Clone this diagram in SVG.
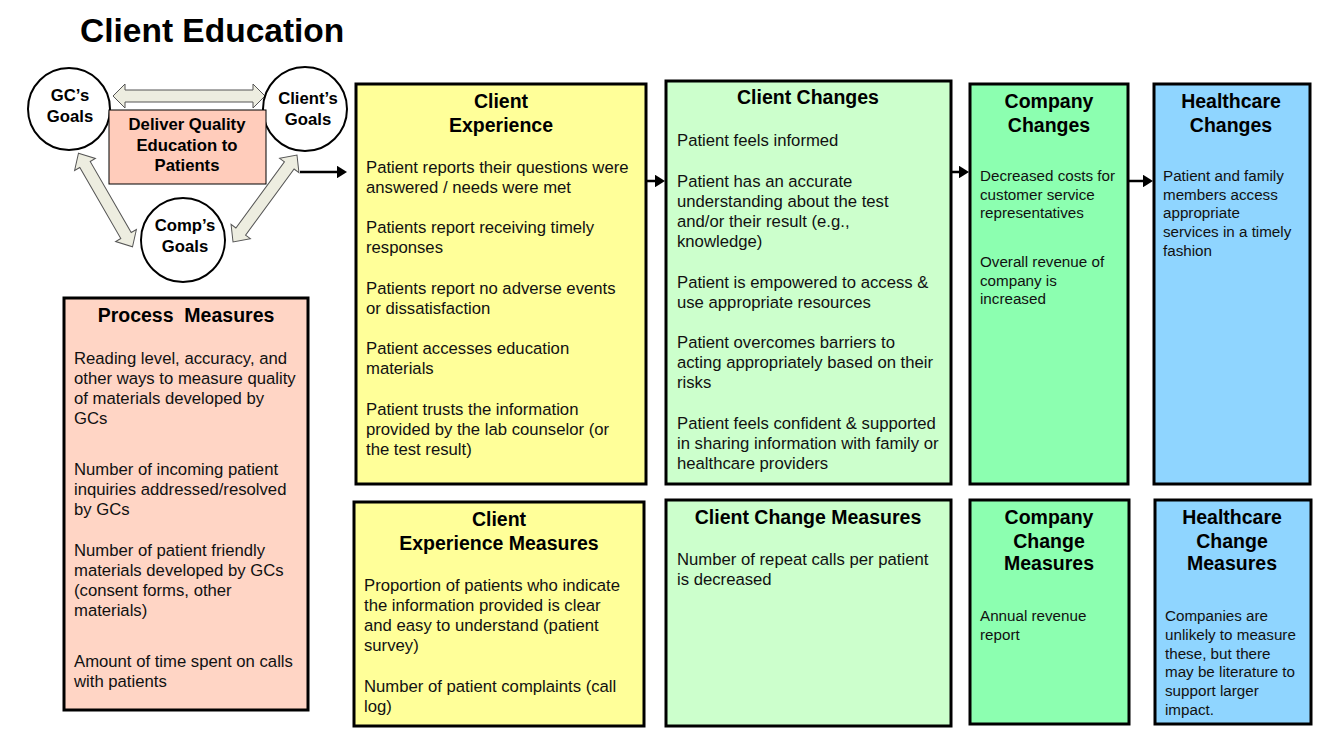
<svg xmlns="http://www.w3.org/2000/svg" width="1333" height="738" viewBox="0 0 1333 738">
<defs>
<style>
.box{stroke:#000;stroke-width:3}
.h{font-family:"Liberation Sans",Arial,sans-serif;font-weight:bold;font-size:19.5px;text-anchor:middle;fill:#000}
.b{font-family:"Liberation Sans",Arial,sans-serif;font-size:16.7px;fill:#111}
.s{font-family:"Liberation Sans",Arial,sans-serif;font-size:15.2px;fill:#111}
.c{font-family:"Liberation Sans",Arial,sans-serif;font-weight:bold;font-size:16.7px;text-anchor:middle;fill:#000}
.circ{fill:#fff;stroke:#000;stroke-width:2}
.da{fill:#EDEDE0;stroke:#555;stroke-width:1}
.conn{stroke:#000;stroke-width:2.5;fill:none;marker-end:url(#ah)}
</style>
<marker id="ah" markerWidth="4" markerHeight="5" refX="2" refY="2.5" orient="auto" markerUnits="strokeWidth">
<path d="M0,0 L4,2.5 L0,5 Z" fill="#000"/>
</marker>
</defs>
<rect width="1333" height="738" fill="#fff"/>
<text x="80" y="42" font-family="Liberation Sans,Arial,sans-serif" font-weight="bold" font-size="33.5" fill="#000">Client Education</text>

<g id="goal-arrows">
<path class="da" transform="translate(189,96)" d="M-76,0 L-64,-12 L-64,-6 L64,-6 L64,-12 L76,0 L64,12 L64,6 L-64,6 L-64,12 Z"/>
<path class="da" transform="translate(105.5,200) rotate(60)" d="M-54,0 L-41,-12 L-41,-6 L41,-6 L41,-12 L54,0 L41,12 L41,6 L-41,6 L-41,12 Z"/>
<path class="da" transform="translate(265,198.5) rotate(126.3)" d="M-54,0 L-41,-12 L-41,-6 L41,-6 L41,-12 L54,0 L41,12 L41,6 L-41,6 L-41,12 Z"/>
</g>

<g id="gc-goals"><circle class="circ" cx="69" cy="109" r="41"/><text class="c" x="70" y="101">GC’s</text><text class="c" x="70" y="122">Goals</text></g>
<g id="client-goals"><circle class="circ" cx="305" cy="109" r="42"/><text class="c" x="308" y="104">Client’s</text><text class="c" x="308" y="125">Goals</text></g>
<g id="comp-goals"><circle class="circ" cx="183" cy="240" r="42"/><text class="c" x="185" y="231">Comp’s</text><text class="c" x="185" y="252">Goals</text></g>
<g id="deliver"><rect x="109" y="110" width="157" height="74" fill="#FFCCBB" stroke="#000" stroke-width="1"/>
<text class="c" x="187" y="130">Deliver Quality</text><text class="c" x="187" y="151">Education to</text><text class="c" x="187" y="171">Patients</text></g>

<g id="connectors">
<line class="conn" x1="300" y1="172" x2="342" y2="172"/>
<line class="conn" x1="646" y1="181" x2="660" y2="181"/>
<line class="conn" x1="951" y1="172" x2="964" y2="172"/>
<line class="conn" x1="1128" y1="181" x2="1148" y2="181"/>
</g>

<g id="client-experience"><rect class="box" x="356" y="84" width="290" height="400" fill="#FFFF99"/>
<text class="h" x="501" y="108">Client</text><text class="h" x="501" y="132">Experience</text>
<text class="b" x="366" y="173">Patient reports their questions were</text>
<text class="b" x="366" y="193">answered / needs were met</text>
<text class="b" x="366" y="233">Patients report receiving timely</text>
<text class="b" x="366" y="253">responses</text>
<text class="b" x="366" y="294">Patients report no adverse events</text>
<text class="b" x="366" y="314">or dissatisfaction</text>
<text class="b" x="366" y="354">Patient accesses education</text>
<text class="b" x="366" y="374">materials</text>
<text class="b" x="366" y="415">Patient trusts the information</text>
<text class="b" x="366" y="435">provided by the lab counselor (or</text>
<text class="b" x="366" y="455">the test result)</text>
</g>

<g id="client-changes"><rect class="box" x="666" y="81" width="285" height="403" fill="#CCFFCC"/>
<text class="h" x="808" y="104">Client Changes</text>
<text class="b" x="677" y="146">Patient feels informed</text>
<text class="b" x="677" y="187">Patient has an accurate</text>
<text class="b" x="677" y="207">understanding about the test</text>
<text class="b" x="677" y="227">and/or their result (e.g.,</text>
<text class="b" x="677" y="247">knowledge)</text>
<text class="b" x="677" y="288">Patient is empowered to access &amp;</text>
<text class="b" x="677" y="308">use appropriate resources</text>
<text class="b" x="677" y="348">Patient overcomes barriers to</text>
<text class="b" x="677" y="368">acting appropriately based on their</text>
<text class="b" x="677" y="388">risks</text>
<text class="b" x="677" y="429">Patient feels confident &amp; supported</text>
<text class="b" x="677" y="449">in sharing information with family or</text>
<text class="b" x="677" y="469">healthcare providers</text>
</g>

<g id="company-changes"><rect class="box" x="970" y="84" width="158" height="400" fill="#8CFFB0"/>
<text class="h" x="1049" y="108">Company</text><text class="h" x="1049" y="132">Changes</text>
<text class="s" x="980" y="181">Decreased costs for</text>
<text class="s" x="980" y="200">customer service</text>
<text class="s" x="980" y="218">representatives</text>
<text class="s" x="980" y="267">Overall revenue of</text>
<text class="s" x="980" y="286">company is</text>
<text class="s" x="980" y="304">increased</text>
</g>

<g id="healthcare-changes"><rect class="box" x="1154" y="84" width="156" height="400" fill="#8FD5FF"/>
<text class="h" x="1231" y="108">Healthcare</text><text class="h" x="1231" y="132">Changes</text>
<text class="s" x="1163" y="181">Patient and family</text>
<text class="s" x="1163" y="200">members access</text>
<text class="s" x="1163" y="218">appropriate</text>
<text class="s" x="1163" y="237">services in a timely</text>
<text class="s" x="1163" y="256">fashion</text>
</g>

<g id="process-measures"><rect class="box" x="64" y="298" width="244" height="412" fill="#FFD5C5"/>
<text class="h" x="186" y="322" xml:space="preserve">Process  Measures</text>
<text class="b" x="74" y="364">Reading level, accuracy, and</text>
<text class="b" x="74" y="384">other ways to measure quality</text>
<text class="b" x="74" y="404">of materials developed by</text>
<text class="b" x="74" y="424">GCs</text>
<text class="b" x="74" y="475">Number of incoming patient</text>
<text class="b" x="74" y="495">inquiries addressed/resolved</text>
<text class="b" x="74" y="515">by GCs</text>
<text class="b" x="74" y="556">Number of patient friendly</text>
<text class="b" x="74" y="576">materials developed by GCs</text>
<text class="b" x="74" y="596">(consent forms, other</text>
<text class="b" x="74" y="616">materials)</text>
<text class="b" x="74" y="667">Amount of time spent on calls</text>
<text class="b" x="74" y="687">with patients</text>
</g>

<g id="client-experience-measures"><rect class="box" x="354" y="502" width="290" height="224" fill="#FFFF99"/>
<text class="h" x="499" y="526">Client</text><text class="h" x="499" y="550">Experience Measures</text>
<text class="b" x="364" y="591">Proportion of patients who indicate</text>
<text class="b" x="364" y="611">the information provided is clear</text>
<text class="b" x="364" y="631">and easy to understand (patient</text>
<text class="b" x="364" y="651">survey)</text>
<text class="b" x="364" y="692">Number of patient complaints (call</text>
<text class="b" x="364" y="712">log)</text>
</g>

<g id="client-change-measures"><rect class="box" x="666" y="500" width="285" height="226" fill="#CCFFCC"/>
<text class="h" x="808" y="524">Client Change Measures</text>
<text class="b" x="677" y="565">Number of repeat calls per patient</text>
<text class="b" x="677" y="585">is decreased</text>
</g>

<g id="company-change-measures"><rect class="box" x="970" y="500" width="159" height="224" fill="#8CFFB0"/>
<text class="h" x="1049" y="524">Company</text><text class="h" x="1049" y="548">Change</text><text class="h" x="1049" y="570">Measures</text>
<text class="s" x="980" y="621">Annual revenue</text>
<text class="s" x="980" y="640">report</text>
</g>

<g id="healthcare-change-measures"><rect class="box" x="1155" y="500" width="156" height="224" fill="#8FD5FF"/>
<text class="h" x="1232" y="524">Healthcare</text><text class="h" x="1232" y="548">Change</text><text class="h" x="1232" y="570">Measures</text>
<text class="s" x="1165" y="621">Companies are</text>
<text class="s" x="1165" y="640">unlikely to measure</text>
<text class="s" x="1165" y="659">these, but there</text>
<text class="s" x="1165" y="677">may be literature to</text>
<text class="s" x="1165" y="696">support larger</text>
<text class="s" x="1165" y="715">impact.</text>
</g>
</svg>
